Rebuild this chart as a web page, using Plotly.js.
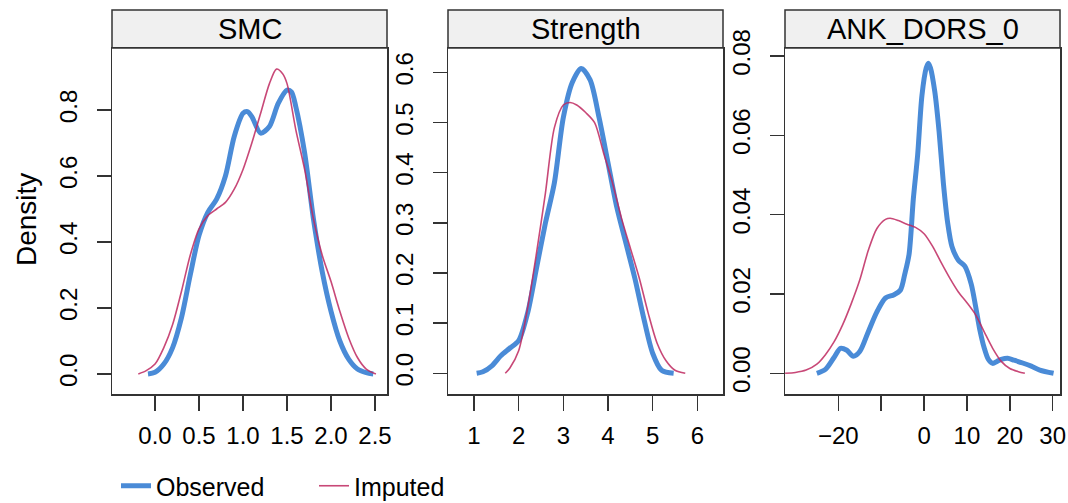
<!DOCTYPE html>
<html><head><meta charset="utf-8">
<script src="https://cdn.plot.ly/plotly-3.0.1.min.js"></script>
<style>html,body{margin:0;padding:0;background:#fff;}</style>
</head><body><div id="chart" style="width:1068px;height:503px;"></div>
<script>
// ---- data ----
const panelTitles = ["SMC", "Strength", "ANK_DORS_0"];
const seriesNames = ["Observed", "Imputed"];
const yAxisLabel = "Density";

const smcObsX = [-0.08,0.0,0.1,0.2,0.3,0.4,0.5,0.6,0.7,0.8,0.9,1.0,1.05,1.1,1.2,1.3,1.4,1.5,1.55,1.6,1.7,1.8,1.9,2.0,2.1,2.2,2.3,2.4,2.48];
const smcObsY = [0.0,0.005,0.03,0.08,0.17,0.30,0.42,0.49,0.53,0.60,0.72,0.79,0.795,0.78,0.73,0.75,0.82,0.86,0.855,0.81,0.67,0.47,0.31,0.19,0.10,0.045,0.015,0.004,0.0];
const smcImpX = [-0.19,-0.1,0.0,0.1,0.2,0.3,0.4,0.5,0.6,0.7,0.8,0.9,1.0,1.1,1.2,1.3,1.38,1.45,1.5,1.6,1.7,1.8,1.9,2.0,2.1,2.2,2.3,2.4,2.51];
const smcImpY = [0.0,0.01,0.03,0.08,0.15,0.25,0.36,0.44,0.48,0.50,0.52,0.56,0.62,0.70,0.79,0.88,0.924,0.91,0.88,0.74,0.62,0.47,0.36,0.28,0.19,0.11,0.05,0.015,0.0];

const strObsX = [1.06,1.2,1.4,1.6,1.8,2.0,2.2,2.4,2.6,2.8,3.0,3.2,3.4,3.6,3.8,4.0,4.2,4.4,4.6,4.8,5.0,5.2,5.47];
const strObsY = [0.0,0.003,0.015,0.035,0.05,0.065,0.12,0.21,0.30,0.38,0.51,0.58,0.608,0.585,0.51,0.42,0.33,0.26,0.19,0.11,0.04,0.006,0.0];
const strImpX = [1.70,1.8,2.0,2.2,2.4,2.6,2.8,3.0,3.15,3.3,3.5,3.7,3.9,4.1,4.3,4.5,4.7,4.9,5.1,5.3,5.5,5.73];
const strImpY = [0.0,0.01,0.045,0.13,0.24,0.36,0.49,0.535,0.54,0.535,0.52,0.50,0.44,0.38,0.31,0.25,0.19,0.12,0.06,0.025,0.006,0.0];

const ankObsX = [-25,-23,-21,-19.5,-18,-16.5,-15,-13,-11,-9,-7,-5.5,-4.5,-3.5,-2.5,-1.5,-0.5,0.5,1,1.5,2.5,3.5,4.5,5.5,6.5,8,9.5,11,12,13,14,15,16,17,18,19.5,21,23,25,27,30.2];
const ankObsY = [0,0.001,0.004,0.0063,0.0058,0.0043,0.0055,0.0105,0.0155,0.019,0.0198,0.021,0.025,0.03,0.044,0.055,0.07,0.077,0.0782,0.077,0.071,0.061,0.048,0.038,0.032,0.0285,0.027,0.0225,0.017,0.011,0.0065,0.0035,0.0025,0.003,0.0035,0.0038,0.0033,0.0026,0.0018,0.0008,0.0];
const ankImpX = [-32.4,-30,-27.5,-25,-23,-21,-19,-17,-15,-13,-11,-9,-7.9,-6,-4,-2,0,2,4,6,8,10,12,14,16,18,20,22,23.5];
const ankImpY = [0,0.0002,0.0008,0.0023,0.0047,0.0079,0.0122,0.0175,0.0235,0.031,0.0365,0.0388,0.0391,0.0385,0.0376,0.0368,0.0352,0.032,0.0279,0.024,0.0205,0.0178,0.0148,0.0105,0.0063,0.003,0.0012,0.0004,0];

const smcXTicks = [0.0,0.5,1.0,1.5,2.0,2.5];
const smcYTicks = [0.0,0.2,0.4,0.6,0.8];
const strXTicks = [1,2,3,4,5,6];
const strYTicks = [0.0,0.1,0.2,0.3,0.4,0.5,0.6];
const ankXTicks = [-20,-10,0,10,20,30];
const ankXTickText = ["\u221220","","0","10","20","30"];
const ankYTicks = [0.00,0.02,0.04,0.06,0.08];

// ---- style ----
const W = 1068, H = 503;
const blue = "#4A8BD7", red = "rgba(190,40,95,0.85)";
const axCol = "#333333";
const FONT = "Liberation Sans, Arial, sans-serif";
const px = v => v / W, py = v => (H - v) / H;
const plotTop = 48, plotBot = 394, stripTop = 10;
const boxes = [[112,387],[448,723],[785,1060]];

function obs(x, y, i) {
  return {x, y, type:"scatter", mode:"lines", name:seriesNames[0], legendgroup:"o",
    showlegend:i===0, xaxis:"x"+(i?i+1:""), yaxis:"y"+(i?i+1:""),
    line:{color:blue, width:5, shape:"spline", smoothing:0.8}, hoverinfo:"skip"};
}
function imp(x, y, i) {
  return {x, y, type:"scatter", mode:"lines", name:seriesNames[1], legendgroup:"i",
    showlegend:i===0, xaxis:"x"+(i?i+1:""), yaxis:"y"+(i?i+1:""),
    line:{color:red, width:1.6, shape:"spline", smoothing:0.8}, hoverinfo:"skip"};
}
const data = [
  obs(smcObsX, smcObsY, 0), imp(smcImpX, smcImpY, 0),
  obs(strObsX, strObsY, 1), imp(strImpX, strImpY, 1),
  obs(ankObsX, ankObsY, 2), imp(ankImpX, ankImpY, 2)
];

function xax(i, range, vals, text, fmt) {
  const a = {domain:[px(boxes[i][0]), px(boxes[i][1])], range, anchor:"y"+(i?i+1:""),
    tickmode:"array", tickvals:vals, ticks:"outside", ticklen:15, tickwidth:1.5, tickcolor:axCol,
    showline:true, mirror:true, linecolor:axCol, linewidth:1.5, showgrid:false, zeroline:false,
    tickfont:{family:FONT, size:24, color:"#000"}, ticklabelstandoff:5, fixedrange:true};
  if (text) a.ticktext = text; else a.tickformat = fmt;
  return a;
}
function yax(i, range, vals, fmt) {
  return {domain:[py(plotBot), py(plotTop)], range, anchor:"x"+(i?i+1:""),
    tickmode:"array", tickvals:vals, tickformat:fmt, ticks:"outside", ticklen:14, tickwidth:1.5, tickcolor:axCol,
    showline:true, mirror:true, linecolor:axCol, linewidth:1.5, showgrid:false, zeroline:false,
    tickangle:-90, tickfont:{family:FONT, size:24, color:"#000"}, ticklabelstandoff:10, fixedrange:true};
}

const shapes = boxes.map(b => ({type:"rect", xref:"paper", yref:"paper",
  x0:px(b[0]), x1:px(b[1]), y0:py(plotTop), y1:py(stripTop),
  fillcolor:"#F0F0F0", line:{color:axCol, width:1.5}, layer:"below"}));

const annotations = panelTitles.map((t, i) => ({text:t, xref:"paper", yref:"paper",
  x:px((boxes[i][0]+boxes[i][1])/2), y:py((plotTop+stripTop)/2), xanchor:"center", yanchor:"middle",
  showarrow:false, font:{family:FONT, size:29, color:"#000"}}));
annotations.push({text:yAxisLabel, xref:"paper", yref:"paper", x:px(26), y:py(220),
  xanchor:"center", yanchor:"middle", textangle:-90, showarrow:false,
  font:{family:FONT, size:28, color:"#000"}});

const layout = {
  width:W, height:H, margin:{l:0, r:0, t:0, b:0, autoexpand:false}, paper_bgcolor:"#fff", plot_bgcolor:"rgba(0,0,0,0)",
  showlegend:true,
  legend:{orientation:"h", x:px(116), y:py(486), xanchor:"left", yanchor:"middle",
    font:{family:FONT, size:25, color:"#000"}, entrywidth:153, bgcolor:"rgba(0,0,0,0)"},
  xaxis:xax(0, [-0.489, 2.636], smcXTicks, null, ".1f"),
  yaxis:yax(0, [-0.0607, 0.988], smcYTicks, ".1f"),
  xaxis2:xax(1, [0.418, 6.575], strXTicks, null, "d"),
  yaxis2:yax(1, [-0.0413, 0.6487], strYTicks, ".1f"),
  xaxis3:xax(2, [-32.43, 31.7], ankXTicks, ankXTickText),
  yaxis3:yax(2, [-0.00522, 0.08202], ankYTicks, ".2f"),
  shapes, annotations
};
Plotly.newPlot("chart", data, layout, {displayModeBar:false, staticPlot:true});
</script></body></html>
